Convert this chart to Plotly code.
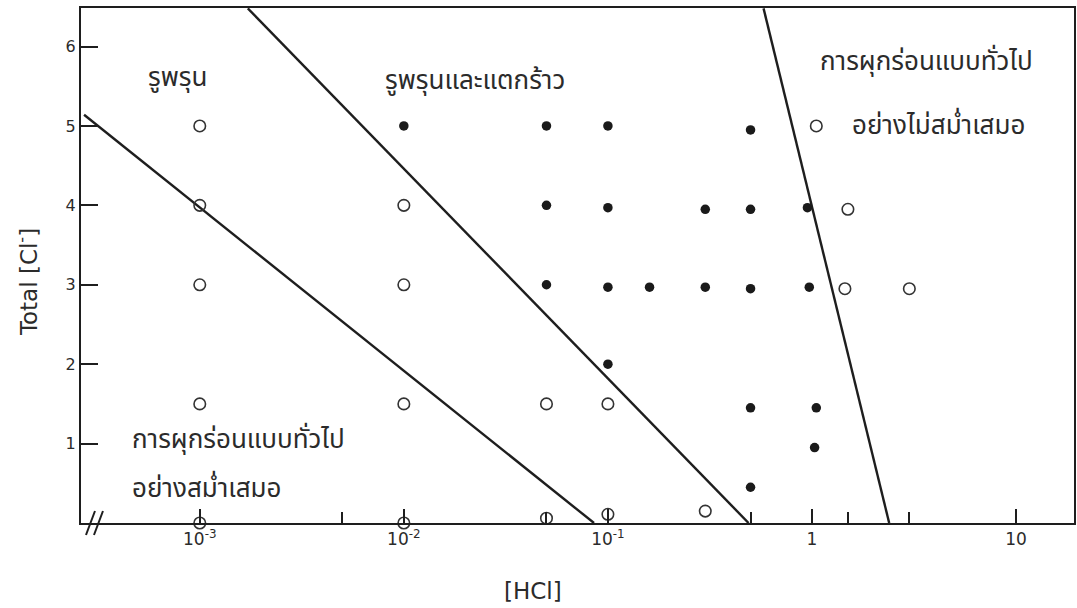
import plotly.graph_objects as go

# Open circles
open_hcl = [0.001, 0.001, 0.001, 0.001, 0.001,
            0.01, 0.01, 0.01, 0.01,
            0.05, 0.05, 0.1, 0.1, 0.3,
            1.05, 1.5, 1.45, 3.0]
open_cl = [5.0, 4.0, 3.0, 1.5, 0.0,
           4.0, 3.0, 1.5, 0.0,
           1.5, 0.06, 1.5, 0.11, 0.15,
           5.0, 3.95, 2.95, 2.95]

# Filled dots
fill_hcl = [0.01, 0.05, 0.1, 0.5,
            0.05, 0.1, 0.3, 0.5, 0.95,
            0.05, 0.1, 0.16, 0.3, 0.5, 0.97,
            0.1, 0.5, 1.05, 1.03, 0.5]
fill_cl = [5.0, 5.0, 5.0, 4.95,
           4.0, 3.97, 3.95, 3.95, 3.97,
           3.0, 2.97, 2.97, 2.97, 2.95, 2.97,
           2.0, 1.45, 1.45, 0.95, 0.45]

# Region boundaries (end points)
bound_a_hcl = [2.71e-4, 0.0855]
bound_a_cl = [5.14, 0.0]
bound_b_hcl = [1.72e-3, 0.489]
bound_b_cl = [6.48, 0.0]
bound_c_hcl = [0.579, 2.39]
bound_c_cl = [6.48, 0.0]

x_major = [0.001, 0.01, 0.1, 1, 10]
x_major_text = ["10<sup>-3</sup>", "10<sup>-2</sup>", "10<sup>-1</sup>", "1", "10"]
x_minor = [0.005, 0.05, 0.5, 1.5, 3]
y_ticks = [1, 2, 3, 4, 5, 6]

# Region labels: text, log10([HCl]), Total [Cl-], anchor
region_text = ["รูพรุน", "รูพรุนและแตกร้าว",
               "การผุกร่อนแบบทั่วไป", "อย่างไม่สม่ำเสมอ",
               "การผุกร่อนแบบทั่วไป", "อย่างสม่ำเสมอ"]
region_logx = [-3.11, -1.65, 0.56, 0.62, -3.34, -3.34]
region_y = [5.60, 5.57, 5.80, 5.00, 1.05, 0.43]
region_anchor = ["center", "center", "center", "center", "left", "left"]

THAI = "Noto Sans Thai, Noto Serif Thai, Loma, Garuda, Norasi, TlwgTypo, Waree, sans-serif"
SANS = "DejaVu Sans, Liberation Sans, sans-serif"
INK = "#1e1e1e"
TXT = "#2b2b2b"

# plot area in pixels
L, R, T, B = 81, 1, 8, 85
W, H = 1077, 608
PW, PH = W - L - R, H - T - B

fig = go.Figure()
for bx, by in [(bound_a_hcl, bound_a_cl), (bound_b_hcl, bound_b_cl), (bound_c_hcl, bound_c_cl)]:
    fig.add_trace(go.Scatter(x=bx, y=by, mode="lines",
                             line=dict(color=INK, width=2.4), hoverinfo="skip"))

fig.add_trace(go.Scatter(x=open_hcl, y=open_cl, mode="markers", cliponaxis=False,
                         marker=dict(symbol="circle-open", size=11.5, color="#333",
                                     line=dict(width=1.6, color="#333"))))
fig.add_trace(go.Scatter(x=fill_hcl, y=fill_cl, mode="markers", cliponaxis=False,
                         marker=dict(symbol="circle", size=9.5, color="#1a1a1a")))

for txt, lx, ly, anchor in zip(region_text, region_logx, region_y, region_anchor):
    fig.add_annotation(x=lx, y=ly, xref="x", yref="y", text=txt, showarrow=False,
                       xanchor=anchor, yanchor="middle",
                       font=dict(family=THAI, size=26, color=TXT))

# axis titles
fig.add_annotation(xref="paper", yref="paper", x=(534 - L) / PW, y=(H - B - 591) / PH,
                   text="[HCl]", showarrow=False, xanchor="center", yanchor="middle",
                   font=dict(family=SANS, size=23, color=TXT))
fig.add_annotation(xref="paper", yref="paper", x=(27 - L) / PW, y=(H - B - 282) / PH,
                   text="Total [Cl<sup>-</sup>]", textangle=-90, showarrow=False,
                   xanchor="center", yanchor="middle",
                   font=dict(family=SANS, size=23, color=TXT))

# axis break marks
for dx in (0, 8):
    fig.add_shape(type="line", xref="paper", yref="paper",
                  x0=(86 + dx - L) / PW, y0=-12 / PH, x1=(95 + dx - L) / PW, y1=12 / PH,
                  line=dict(color=INK, width=2))

fig.update_layout(
    width=W, height=H,
    margin=dict(l=L, r=R, t=T, b=B),
    paper_bgcolor="white", plot_bgcolor="white",
    showlegend=False,
    font=dict(family=SANS, color=TXT, size=15),
)
fig.update_xaxes(
    type="log", range=[-3.582, 1.284],
    showgrid=False, zeroline=False,
    showline=True, linecolor=INK, linewidth=2, mirror=True,
    ticks="inside", ticklen=14, tickwidth=1.5, tickcolor=INK,
    tickvals=x_major, ticktext=x_major_text,
    tickfont=dict(family=SANS, size=17, color=TXT),
    minor=dict(tickvals=x_minor, ticks="inside", ticklen=11, tickwidth=1.5, tickcolor=INK),
)
fig.update_yaxes(
    range=[0, 6.485],
    showgrid=False, zeroline=False,
    showline=True, linecolor=INK, linewidth=2, mirror=True,
    ticks="inside", ticklen=17, tickwidth=1.5, tickcolor=INK,
    tickvals=y_ticks, ticktext=[str(v) for v in y_ticks],
    tickfont=dict(family=SANS, size=16, color=TXT),
)

fig.write_html("out.html")
